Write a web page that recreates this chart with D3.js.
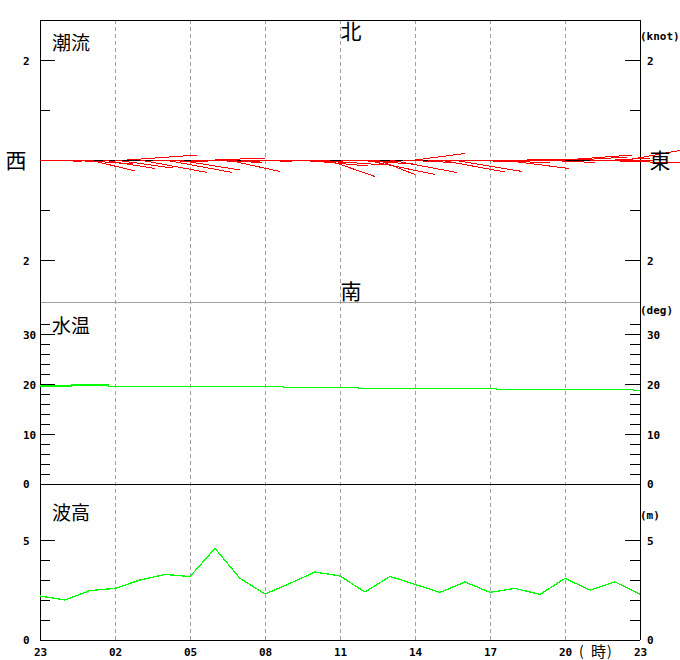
<!DOCTYPE html>
<html><head><meta charset="utf-8">
<script src="https://cdn.jsdelivr.net/npm/d3@7"></script>
<style>
body{margin:0;background:#fff;}
svg{display:block;}
.num{font-family:"DejaVu Sans Mono",monospace;font-weight:bold;font-size:11px;fill:#000;}
.jp{font-family:"Noto Sans CJK JP",sans-serif;fill:#000;}
</style></head>
<body>
<svg id="c" width="680" height="660"></svg>
<script>
// ---- data ----
const hourLabels = ["23","02","05","08","11","14","17","20","23"];
const hourTicks = [0,3,6,9,12,15,18,21,24];
// tidal current vectors every 30 min (east / north components, knots)
const currentHours = [0,0.5,1,1.5,2,2.5,3,3.5,4,4.5,5,5.5,6,6.5,7,7.5,8,8.5,9,9.5,10,10.5,11,11.5,
                      12,12.5,13,13.5,14,14.5,15,15.5,16,16.5,17,17.5,18,18.5,19,19.5,20,20.5,21,21.5,22,22.5,23,23.5];
const currentEast  = [0.9,0.6,0.8,1.1,0.9,1.05,1.15,1.4,1.35,1.1,1.35,1.25,1.4,1.2,1.0,1.05,0.9,0.8,1.1,1.3,1.2,1.3,1.4,0.95,
                      1.1,1.2,1.4,0.75,1.34,1.0,1.0,1.2,1.3,1.4,1.1,0.9,1.2,1.33,1.0,0.9,1.1,0.8,1.35,1.0,1.8,1.0,0.7,1.2];
const currentNorth = [0.0,-0.03,-0.04,-0.08,-0.22,-0.17,-0.16,0.1,-0.25,-0.04,-0.25,-0.2,-0.03,-0.05,0.04,-0.23,-0.02,-0.03,-0.01,-0.04,-0.05,-0.12,-0.1,-0.33,
                      -0.03,-0.08,-0.29,-0.29,-0.25,-0.05,0.13,-0.02,-0.24,-0.23,-0.04,-0.02,-0.06,-0.17,-0.02,0.02,-0.05,0.03,0.1,0.06,-0.06,-0.02,0.04,0.22];
// water temperature (step changes)
const tempHours  = [0,1.25,2.75,9.75,12.75,18.25,23.75,24];
const tempValues = [19.6,19.8,19.5,19.35,19.15,18.95,18.75,18.75];
// wave height hourly
const waveHours  = d3.range(0,25);
const waveValues = [2.2,2.0,2.47,2.58,3.0,3.28,3.17,4.58,3.08,2.3,2.83,3.4,3.2,2.4,3.18,2.78,2.38,2.9,2.38,2.58,2.28,3.08,2.5,2.9,2.28];

const svg = d3.select("#c");
const L = 40, R = 640;
const x = d3.scaleLinear().domain([0,24]).range([L,R]);
const yCur = d3.scaleLinear().domain([-2,2]).range([260,60]);
const spd = d3.scaleLinear().domain([0,2]).range([0,100]);
const yTemp = d3.scaleLinear().domain([0,30]).range([484,334]);
const yWave = d3.scaleLinear().domain([0,5]).range([640,540]);

const g = svg.append("g").attr("shape-rendering","crispEdges");

// vertical dashed grid
g.selectAll("line.grid").data(hourTicks.slice(1,-1)).join("line")
  .attr("x1",d=>x(d)).attr("x2",d=>x(d)).attr("y1",20).attr("y2",640)
  .attr("stroke","#a0a0a0").attr("stroke-dasharray","4,3");

// frame lines
g.append("line").attr("x1",L).attr("x2",R).attr("y1",20).attr("y2",20).attr("stroke","#000");
g.append("line").attr("x1",L).attr("x2",R).attr("y1",302).attr("y2",302).attr("stroke","#a0a0a0");
g.append("line").attr("x1",L).attr("x2",R).attr("y1",yTemp(0)).attr("y2",yTemp(0)).attr("stroke","#000");
g.append("line").attr("x1",L).attr("x2",R).attr("y1",yWave(0)).attr("y2",yWave(0)).attr("stroke","#000");
g.append("line").attr("x1",L).attr("x2",L).attr("y1",20).attr("y2",640).attr("stroke","#000");
g.append("line").attr("x1",R).attr("x2",R).attr("y1",20).attr("y2",640).attr("stroke","#000");

// axes helper
function axes(scale, minor, major, fmt){
  const lm = g.append("g").attr("transform",`translate(${L},0)`)
    .call(d3.axisLeft(scale).tickValues(minor).tickSize(-10).tickFormat(""));
  const lM = g.append("g").attr("transform",`translate(${L},0)`)
    .call(d3.axisLeft(scale).tickValues(major).tickSize(-15).tickFormat(fmt));
  const rm = g.append("g").attr("transform",`translate(${R},0)`)
    .call(d3.axisRight(scale).tickValues(minor).tickSize(-10).tickFormat(""));
  const rM = g.append("g").attr("transform",`translate(${R},0)`)
    .call(d3.axisRight(scale).tickValues(major).tickSize(-15).tickPadding(7).tickFormat(fmt));
  [lm,lM,rm,rM].forEach(a=>{a.select(".domain").remove(); a.selectAll("line").attr("stroke","#000");});
  lM.selectAll("text").attr("text-anchor","start").attr("x",-17);
  [lM,rM].forEach(a=>a.selectAll("text").attr("class","num").attr("font-family",null).attr("font-size",null).attr("fill",null)
     .attr("dy",null).attr("y",4));
}
axes(yCur,[-1,1],[-2,2],d=>Math.abs(d));
axes(yTemp,[2,4,6,8,12,14,16,18,22,24,26,28,32],[10,20,30],d=>d);
axes(yWave,[1,2,3,4],[5],d=>d);
// zero labels
[[yTemp(0),"0"],[yWave(0),"0"]].forEach(([yy,t])=>{
  svg.append("text").attr("class","num").attr("x",23).attr("y",yy+4).text(t);
  svg.append("text").attr("class","num").attr("x",R+7).attr("y",yy+4).text(t);
});

// x axis labels
const xa = svg.append("g").attr("transform",`translate(0,${yWave(0)})`)
  .call(d3.axisBottom(x).tickValues(hourTicks).tickSize(0).tickPadding(8).tickFormat((d,i)=>hourLabels[i]));
xa.select(".domain").remove();
xa.selectAll("text").attr("class","num").attr("font-family",null).attr("font-size",null).attr("fill",null);
svg.append("text").attr("class","jp").attr("x",579).attr("y",656).attr("font-size",14).text("(");
svg.append("text").attr("class","jp").attr("x",591).attr("y",657).attr("font-size",15).text("時");
svg.append("text").attr("class","jp").attr("x",607).attr("y",656).attr("font-size",14).text(")");

// units
svg.append("text").attr("class","num").attr("x",R).attr("y",40).text("(knot)");
svg.append("text").attr("class","num").attr("x",R).attr("y",314).text("(deg)");
svg.append("text").attr("class","num").attr("x",R).attr("y",519).text("(m)");

// panel titles
svg.append("text").attr("class","jp").attr("x",52).attr("y",50).attr("font-size",19).text("潮流");
svg.append("text").attr("class","jp").attr("x",52).attr("y",333).attr("font-size",19).text("水温");
svg.append("text").attr("class","jp").attr("x",52).attr("y",520).attr("font-size",19).text("波高");
// compass
svg.append("text").attr("class","jp").attr("x",351).attr("y",39).attr("font-size",21).attr("text-anchor","middle").text("北");
svg.append("text").attr("class","jp").attr("x",351).attr("y",299).attr("font-size",21).attr("text-anchor","middle").text("南");
svg.append("text").attr("class","jp").attr("x",16).attr("y",168).attr("font-size",21).attr("text-anchor","middle").text("西");
svg.append("text").attr("class","jp").attr("x",660).attr("y",168).attr("font-size",21).attr("text-anchor","middle").text("東");

// current center line + vectors
g.append("line").attr("x1",L).attr("x2",R).attr("y1",yCur(0)).attr("y2",yCur(0)).attr("stroke","#000");
const cur = currentHours.map((h,i)=>({h,u:currentEast[i],v:currentNorth[i]}));
g.selectAll("line.vec").data(cur).join("line")
  .attr("x1",d=>x(d.h)).attr("y1",yCur(0))
  .attr("x2",d=>x(d.h)+spd(d.u)).attr("y2",d=>yCur(0)-spd(d.v))
  .attr("stroke","#ff0000").attr("stroke-width",1);

// temperature
g.append("path").datum(tempHours.map((h,i)=>[h,tempValues[i]]))
  .attr("d",d3.line().x(d=>x(d[0])).y(d=>yTemp(d[1])).curve(d3.curveStepAfter))
  .attr("fill","none").attr("stroke","#00ff00").attr("stroke-width",1.3);

// wave
g.append("path").datum(waveHours.map((h,i)=>[h,waveValues[i]]))
  .attr("d",d3.line().x(d=>x(d[0])).y(d=>yWave(d[1])))
  .attr("fill","none").attr("stroke","#00ff00").attr("stroke-width",1.3);
</script>
</body></html>
